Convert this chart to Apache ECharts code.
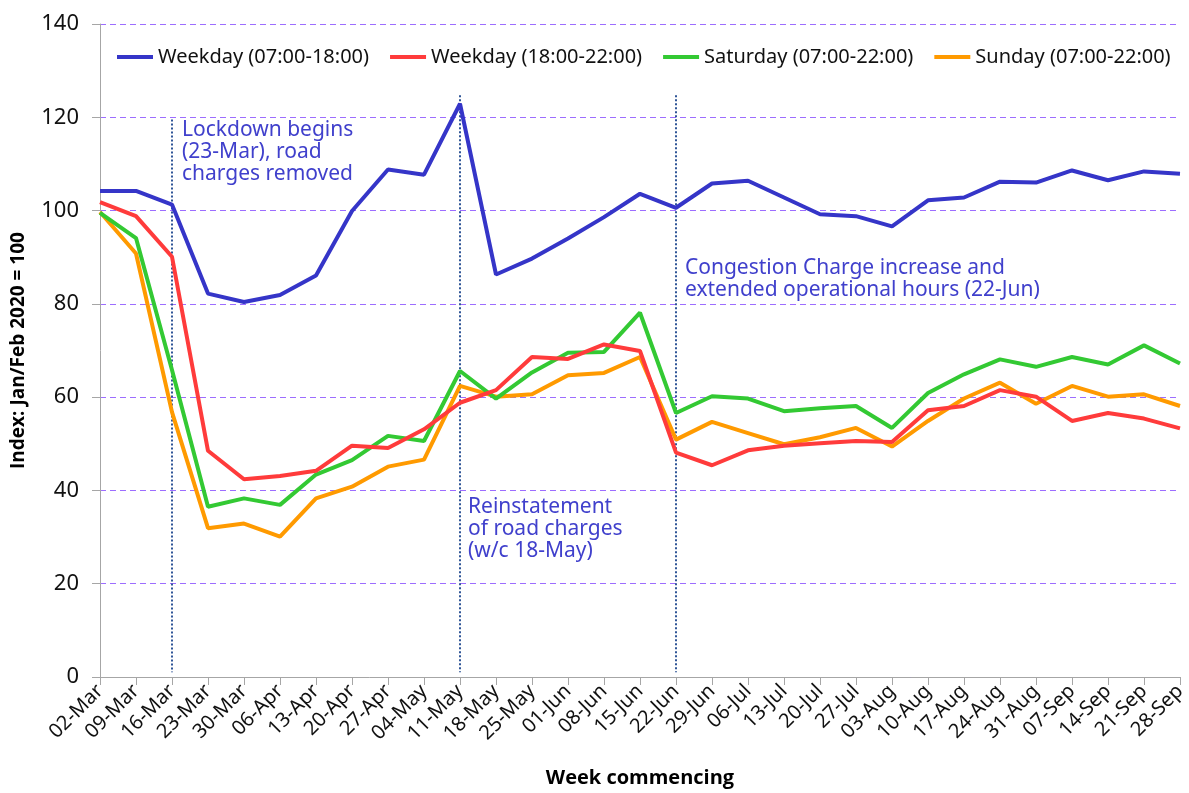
<!DOCTYPE html>
<html>
<head>
<meta charset="utf-8">
<script src="https://cdn.jsdelivr.net/npm/echarts@6/dist/echarts.min.js"></script>
<style>
html, body { margin: 0; padding: 0; background: #fff; }
#chart { width: 1189px; height: 793px; }
</style>
</head>
<body>
<div id="chart"></div>
<script>
var weeks = ['02-Mar', '09-Mar', '16-Mar', '23-Mar', '30-Mar', '06-Apr', '13-Apr', '20-Apr', '27-Apr', '04-May',
    '11-May', '18-May', '25-May', '01-Jun', '08-Jun', '15-Jun', '22-Jun', '29-Jun', '06-Jul', '13-Jul',
    '20-Jul', '27-Jul', '03-Aug', '10-Aug', '17-Aug', '24-Aug', '31-Aug', '07-Sep', '14-Sep', '21-Sep', '28-Sep']

var weekdayDay = [104.2, 104.2, 101.3, 82.2, 80.4, 81.9, 86.1, 99.9, 108.8, 107.7,
    122.9, 86.3, 89.7, 94.0, 98.6, 103.6, 100.6, 105.8, 106.4, 102.8,
    99.2, 98.8, 96.6, 102.2, 102.8, 106.2, 106.0, 108.6, 106.5, 108.4, 107.9]
var weekdayEve = [101.8, 98.8, 90.1, 48.5, 42.4, 43.1, 44.2, 49.6, 49.1, 53.1,
    58.8, 61.5, 68.6, 68.2, 71.3, 69.9, 48.1, 45.4, 48.6, 49.6,
    50.1, 50.6, 50.4, 57.2, 58.1, 61.5, 60.1, 54.9, 56.6, 55.4, 53.3]
var saturday = [99.5, 94.1, 65.8, 36.5, 38.3, 36.9, 43.4, 46.5, 51.7, 50.6,
    65.6, 59.7, 65.3, 69.5, 69.7, 78.1, 56.6, 60.2, 59.7, 57.0,
    57.6, 58.1, 53.4, 60.9, 64.9, 68.1, 66.5, 68.6, 67.0, 71.1, 67.2]
var sunday = [99.7, 90.8, 56.8, 31.9, 32.9, 30.1, 38.3, 40.8, 45.1, 46.6,
    62.4, 60.1, 60.6, 64.7, 65.2, 68.6, 50.9, 54.7, 52.3, 49.9,
    51.4, 53.4, 49.4, 54.9, 59.7, 63.1, 58.6, 62.4, 60.1, 60.6, 58.1]

var seriesNames = ['Weekday (07:00-18:00)', 'Weekday (18:00-22:00)', 'Saturday (07:00-22:00)', 'Sunday (07:00-22:00)']
var seriesColors = ['#3535c8', '#ff3b3b', '#33c933', '#ff9a00']

// event lines: week, top of the dotted line
var events = [['16-Mar', 119.5], ['11-May', 124.7], ['22-Jun', 124.7]]

// annotation text, anchored at [week, value] (top-left corner)
var notes = [
    { at: ['16-Mar', 119.5], dx: 10, dy: -1, text: 'Lockdown begins\n(23-Mar), road\ncharges removed' },
    { at: ['11-May', 40], dx: 8, dy: 6, text: 'Reinstatement\nof road charges\n(w/c 18-May)' },
    { at: ['22-Jun', 90], dx: 9, dy: 0, text: 'Congestion Charge increase and\nextended operational hours (22-Jun)' }
]

var myChart = echarts.init(document.getElementById('chart'))
var font = 'Noto Sans'

var series = [weekdayDay, weekdayEve, saturday, sunday].map(function (d, i) {
    return {
        name: seriesNames[i],
        type: 'line',
        data: d,
        symbol: 'none',
        lineStyle: { width: 4, color: seriesColors[i] },
        itemStyle: { color: seriesColors[i] },
        z: 10 - i
    }
})
series[0].markLine = {
    symbol: 'none',
    silent: true,
    label: { show: false },
    lineStyle: { type: 'dotted', color: '#2f5597', width: 2 },
    data: events.map(function (e) {
        return [{ coord: [e[0], e[1]] }, { coord: [e[0], 1] }]
    })
}

var option = {
    animation: false,
    grid: { left: 100, right: 9, top: 24, bottom: 116, containLabel: false, outerBoundsMode: 'none' },
    legend: {
        data: seriesNames,
        top: 42,
        left: 112,
        icon: 'rect',
        itemWidth: 36,
        itemHeight: 4,
        itemGap: 21,
        textStyle: { fontFamily: font, fontSize: 20, color: '#111' }
    },
    xAxis: {
        type: 'category',
        data: weeks,
        boundaryGap: false,
        name: 'Week commencing',
        nameLocation: 'middle',
        nameGap: 91,
        nameTextStyle: { fontFamily: 'Open Sans', fontWeight: 'bold', fontSize: 20, color: '#000' },
        axisLine: { lineStyle: { color: '#a6a6a6', width: 1 } },
        axisTick: { show: true, alignWithLabel: true, length: 8, lineStyle: { color: '#a6a6a6' } },
        axisLabel: { rotate: 45, interval: 0, fontFamily: font, fontSize: 20, color: '#111', margin: 11 },
        splitLine: { show: false }
    },
    yAxis: {
        type: 'value',
        min: 0,
        max: 140,
        interval: 20,
        name: 'Index: Jan/Feb 2020 = 100',
        nameLocation: 'middle',
        nameGap: 72,
        nameTextStyle: { fontFamily: 'Open Sans', fontWeight: 'bold', fontSize: 19, color: '#000' },
        axisLine: { show: true, lineStyle: { color: '#a6a6a6', width: 1 } },
        axisTick: { show: true, length: 8, lineStyle: { color: '#a6a6a6' } },
        axisLabel: { fontFamily: font, fontSize: 22, color: '#111', margin: 21 },
        splitLine: { lineStyle: { type: [6, 4], color: '#9d6dff', width: 1 } }
    },
    series: series
}
myChart.setOption(option)

// place the annotation texts from data coordinates
myChart.setOption({
    graphic: notes.map(function (n) {
        var p = myChart.convertToPixel({ seriesIndex: 0 }, n.at)
        return {
            type: 'text',
            left: p[0] + n.dx,
            top: p[1] + n.dy,
            z: 20,
            style: {
                text: n.text,
                fontFamily: font,
                fontSize: 21,
                lineHeight: 22,
                fill: '#4040cc'
            }
        }
    })
})
</script>
</body>
</html>
